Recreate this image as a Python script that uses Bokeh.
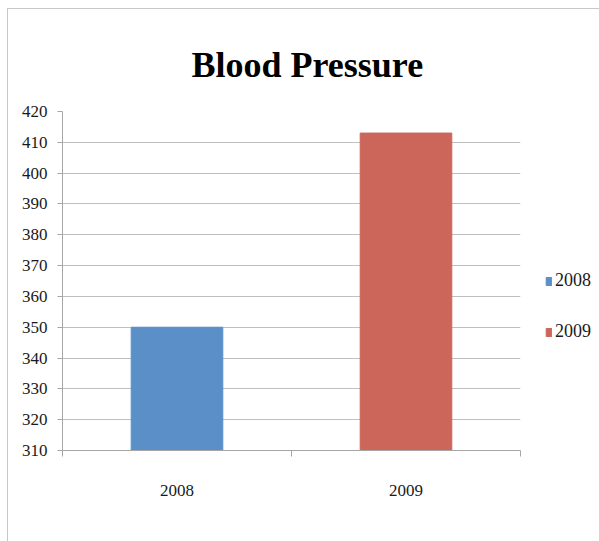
from bokeh.plotting import figure
from bokeh.models import ColumnDataSource, FixedTicker, Legend, LegendItem
from bokeh.embed import file_html
from bokeh.resources import INLINE

years = ["2008", "2009"]
values = [350, 413]
colors = ["#5B8FC8", "#CC665B"]
y_ticks = [310, 320, 330, 340, 350, 360, 370, 380, 390, 400, 410, 420]
title_text = "Blood Pressure"

FONT = "'Liberation Serif', serif"

xs = [i + 0.5 for i in range(len(years))]
src = ColumnDataSource(dict(x=xs, top=values, year=years, color=colors))

p = figure(width=591, height=533, output_backend="svg", toolbar_location=None,
           x_range=(0, len(years)), y_range=(y_ticks[0], y_ticks[-1]),
           frame_width=458, frame_height=339,
           min_border_left=54, min_border_right=79, min_border_top=102, min_border_bottom=91)
p.margin = (8, 0, 0, 7)
p.title.text = title_text
p.title.align = "left"
p.title.offset = 129
p.title.text_font = FONT
p.title.text_font_style = "bold"
p.title.text_font_size = "36px"
p.title.text_color = "#000000"
p.title.standoff = 54
p.outline_line_color = None
p.background_fill_color = "white"
p.border_fill_color = "white"
p.styles = {"border-left": "1px solid #C8C8C8", "border-top": "1px solid #C8C8C8"}

r = p.vbar(x="x", top="top", bottom=y_ticks[0], width=0.4, color="color", source=src)

# y axis
p.yaxis.ticker = FixedTicker(ticks=y_ticks, minor_ticks=[])
p.yaxis.axis_line_color = "#A6A6A6"
p.yaxis.major_tick_line_color = "#A6A6A6"
p.yaxis.major_tick_out = 5
p.yaxis.major_tick_in = 0
p.yaxis.minor_tick_line_color = None
p.yaxis.major_label_text_font = FONT
p.yaxis.major_label_text_font_size = "17px"
p.yaxis.major_label_text_color = "#1A1A1A"
p.yaxis.major_label_standoff = 10

# x axis: labels at category centers, ticks at boundaries
p.xaxis.ticker = FixedTicker(ticks=xs, minor_ticks=list(range(len(years) + 1)))
p.xaxis.major_label_overrides = {x: y for x, y in zip(xs, years)}
p.xaxis.axis_line_color = "#A6A6A6"
p.xaxis.major_tick_line_color = None
p.xaxis.major_tick_out = 0
p.xaxis.minor_tick_line_color = "#A6A6A6"
p.xaxis.minor_tick_out = 6
p.xaxis.minor_tick_in = 0
p.xaxis.major_label_text_font = FONT
p.xaxis.major_label_text_font_size = "17px"
p.xaxis.major_label_text_color = "#1A1A1A"
p.xaxis.major_label_standoff = 28

p.xgrid.grid_line_color = None
p.ygrid.grid_line_color = "#BFBFBF"
p.ygrid.ticker = FixedTicker(ticks=y_ticks)

legend = Legend(items=[LegendItem(label=y, renderers=[r], index=i) for i, y in enumerate(years)],
                location=(25, 108), orientation="vertical",
                glyph_width=7, glyph_height=10, spacing=30,
                label_text_font=FONT, label_text_font_size="18px",
                label_text_color="#1A1A1A", label_standoff=3,
                border_line_color=None, background_fill_alpha=0, padding=0, margin=0)
p.add_layout(legend, "right")

open("out.html", "w").write(file_html(p, INLINE))
